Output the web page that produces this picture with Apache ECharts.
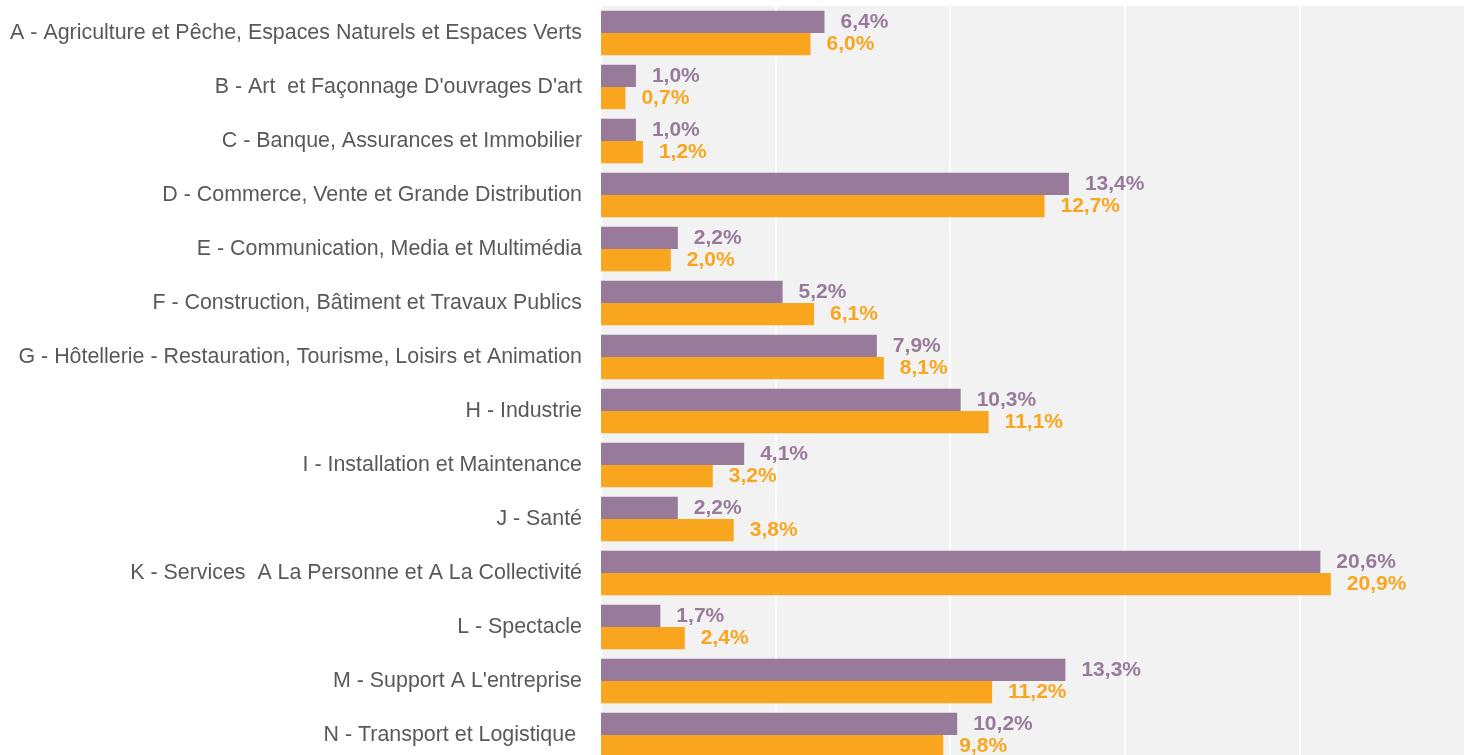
<!DOCTYPE html>
<html>
<head>
<meta charset="utf-8">
<script src="https://cdn.jsdelivr.net/npm/echarts@6/dist/echarts.min.js"></script>
<style>
  html, body { margin: 0; padding: 0; background: #ffffff; }
  #chart { width: 1464px; height: 755px; }
</style>
</head>
<body>
<div id="chart"></div>
<script>
const categories = [
  'A - Agriculture et Pêche, Espaces Naturels et Espaces Verts',
  "B - Art  et Façonnage D'ouvrages D'art",
  'C - Banque, Assurances et Immobilier',
  'D - Commerce, Vente et Grande Distribution',
  'E - Communication, Media et Multimédia',
  'F - Construction, Bâtiment et Travaux Publics',
  'G - Hôtellerie - Restauration, Tourisme, Loisirs et Animation',
  'H - Industrie',
  'I - Installation et Maintenance',
  'J - Santé',
  'K - Services  A La Personne et A La Collectivité',
  'L - Spectacle',
  "M - Support A L'entreprise",
  'N - Transport et Logistique '
];
const purpleValues = [6.4, 1.0, 1.0, 13.4, 2.2, 5.2, 7.9, 10.3, 4.1, 2.2, 20.6, 1.7, 13.3, 10.2];
const orangeValues = [6.0, 0.7, 1.2, 12.7, 2.0, 6.1, 8.1, 11.1, 3.2, 3.8, 20.9, 2.4, 11.2, 9.8];

const purple = '#987B9B';
const orange = '#F9A61E';
const font = "'Liberation Sans', Arial, sans-serif";

const fmt = (p) => p.value.toFixed(1).replace('.', ',') + '%';

const chart = echarts.init(document.getElementById('chart'));

const option = {
  animation: false,
  grid: {
    left: 601,
    top: 6,
    width: 873,
    height: 756,
    outerBoundsMode: 'none',
    show: true,
    backgroundColor: '#F2F2F2',
    borderWidth: 0
  },
  xAxis: {
    type: 'value',
    min: 0,
    max: 25,
    interval: 5,
    axisLabel: { show: false },
    axisLine: { show: false },
    axisTick: { show: false },
    splitLine: { lineStyle: { color: '#ffffff', width: 2 } }
  },
  yAxis: {
    type: 'category',
    inverse: true,
    data: categories,
    axisLine: { show: false },
    axisTick: { show: false },
    axisLabel: {
      margin: 19,
      color: '#595959',
      fontSize: 21.4,
      fontFamily: font
    }
  },
  series: [
    {
      type: 'bar',
      data: purpleValues,
      barCategoryGap: '18%',
      barGap: '0%',
      itemStyle: { color: purple },
      label: {
        show: true,
        position: 'right',
        distance: 16,
        formatter: fmt,
        color: purple,
        fontSize: 21,
        fontWeight: 'bold',
        fontFamily: font
      }
    },
    {
      type: 'bar',
      data: orangeValues,
      barCategoryGap: '18%',
      barGap: '0%',
      itemStyle: { color: orange },
      label: {
        show: true,
        position: 'right',
        distance: 16,
        formatter: fmt,
        color: orange,
        fontSize: 21,
        fontWeight: 'bold',
        fontFamily: font
      }
    }
  ]
};

chart.setOption(option);
</script>
</body>
</html>
